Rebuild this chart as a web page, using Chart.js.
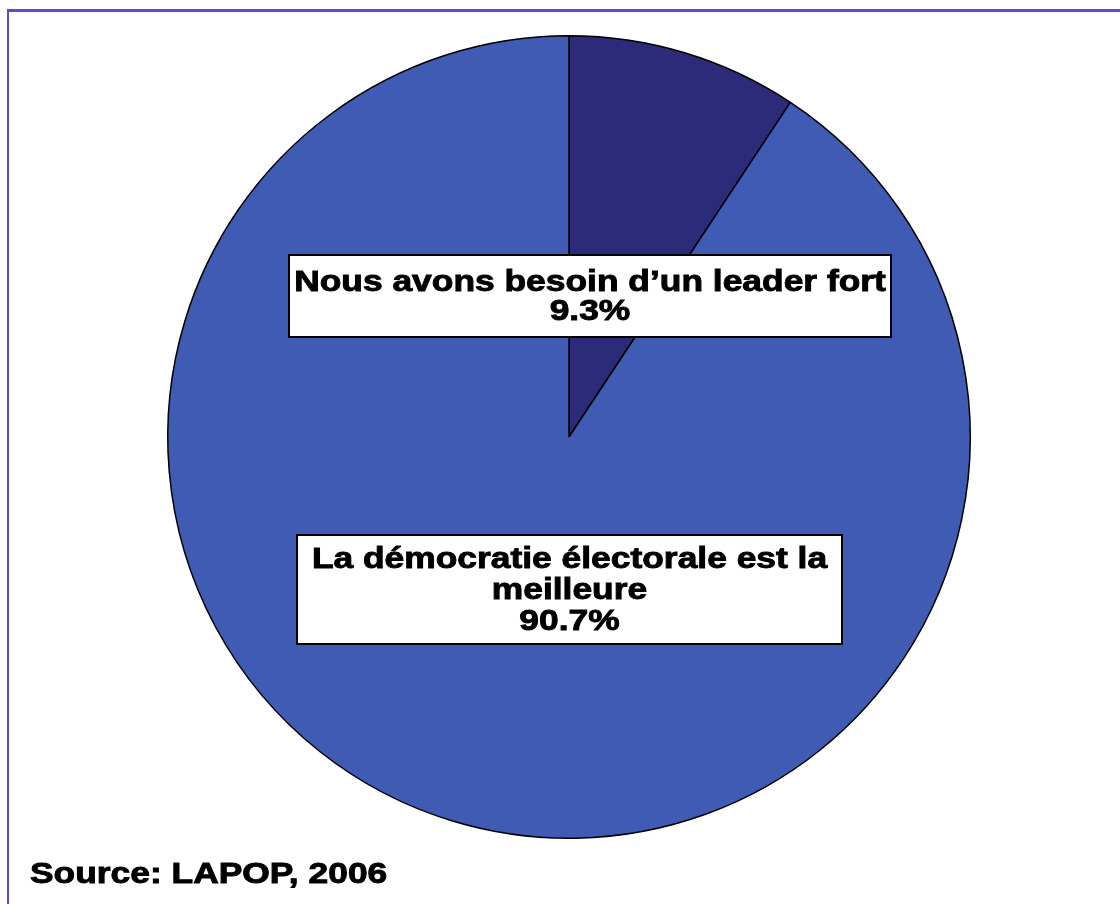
<!DOCTYPE html>
<html>
<head>
<meta charset="utf-8">
<script src="https://cdn.jsdelivr.net/npm/chart.js@4.4.1/dist/chart.umd.min.js"></script>
<style>
  html, body { margin: 0; padding: 0; background: #fff; }
  #wrap { position: relative; width: 1120px; height: 904px; overflow: hidden; }
  #frame { position: absolute; left: 7px; top: 9px; width: 1120px; height: 900px;
           border-top: 3px solid #5a4fc2; border-left: 2px solid #5a4fc2; box-sizing: border-box; }
  canvas { position: absolute; left: 0; top: 0; }
</style>
</head>
<body>
<div id="wrap">
  <div id="frame"></div>
  <canvas id="chartCanvas" width="1120" height="904"></canvas>
</div>
<script>
// DATA
const categories = ['Nous avons besoin d\u2019un leader fort', 'La d\u00e9mocratie \u00e9lectorale est la meilleure'];
const shares = [9.3, 90.7];
const sliceColors = ['#2b2b7a', '#3f5bb3'];
// how each label is broken into lines inside its box
const labelLines = [
  ['Nous avons besoin d\u2019un leader fort'],
  ['La d\u00e9mocratie \u00e9lectorale est la', 'meilleure']
];
const sourceNote = 'Source: LAPOP, 2006';

// LABEL BOXES (offsets from pie centre)
const boxSpots = [
  { x: -280, y: -182, w: 602, h: 82, lh: 29 },
  { x: -272, y: 98, w: 545, h: 109, lh: 31 }
];
const stretch = 1.22; // the original font is a wide, heavy sans

function heavyText(ctx, t, x, y) {
  ctx.save();
  ctx.translate(x, y);
  ctx.scale(stretch, 1);
  ctx.fillText(t, 0, 0);
  ctx.strokeText(t, 0, 0);
  ctx.restore();
}

const boxLabels = {
  id: 'boxLabels',
  afterDraw(chart) {
    const ctx = chart.ctx;
    const arc = chart.getDatasetMeta(0).data[0];
    const cx = arc.x, cy = arc.y;
    ctx.save();
    ctx.textAlign = 'center';
    ctx.textBaseline = 'middle';
    shares.forEach((v, i) => {
      const b = boxSpots[i];
      const x0 = cx + b.x, y0 = cy + b.y;
      ctx.fillStyle = '#fff';
      ctx.fillRect(x0, y0, b.w, b.h);
      ctx.lineWidth = 2;
      ctx.strokeStyle = '#000';
      ctx.strokeRect(x0, y0, b.w, b.h);
      const lines = labelLines[i].concat([v.toFixed(1) + '%']);
      const top = y0 + b.h / 2 - (lines.length - 1) * b.lh / 2;
      ctx.fillStyle = '#000';
      ctx.lineWidth = 0.9;
      ctx.font = 'bold 29px "Liberation Sans", Arial, sans-serif';
      lines.forEach((t, k) => heavyText(ctx, t, x0 + b.w / 2, top + k * b.lh + 1));
    });
    // source note
    ctx.textAlign = 'left';
    ctx.textBaseline = 'alphabetic';
    ctx.font = 'bold 29px "Liberation Sans", Arial, sans-serif';
    ctx.lineWidth = 0.9;
    heavyText(ctx, sourceNote, 30, 883);
    ctx.restore();
  }
};

new Chart(document.getElementById('chartCanvas'), {
  type: 'pie',
  data: {
    labels: categories,
    datasets: [{
      data: shares,
      backgroundColor: sliceColors,
      borderColor: '#000',
      borderWidth: 1.5
    }]
  },
  options: {
    responsive: false,
    animation: false,
    layout: { padding: { left: 167, right: 149, top: 35, bottom: 65 } },
    plugins: { legend: { display: false }, tooltip: { enabled: false } }
  },
  plugins: [boxLabels]
});
</script>
</body>
</html>
